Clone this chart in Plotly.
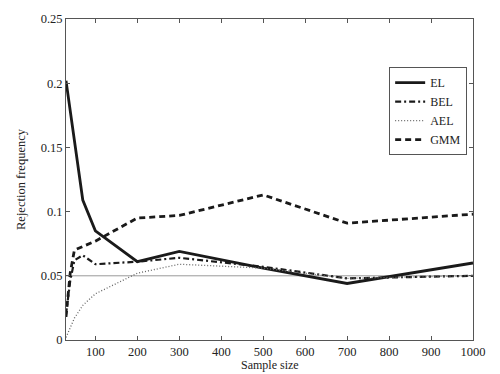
import plotly.graph_objects as go

sample_size = [30, 40, 50, 70, 100, 200, 300, 500, 700, 1000]
el = [0.202, 0.178, 0.155, 0.109, 0.085, 0.061, 0.069, 0.056, 0.044, 0.060]
bel = [0.020, 0.046, 0.062, 0.066, 0.059, 0.061, 0.064, 0.057, 0.048, 0.050]
ael = [0.002, 0.010, 0.017, 0.027, 0.036, 0.052, 0.059, 0.056, 0.048, 0.050]
gmm = [0.018, 0.052, 0.070, 0.073, 0.077, 0.095, 0.097, 0.113, 0.091, 0.098]
x_ticks = [100, 200, 300, 400, 500, 600, 700, 800, 900, 1000]
y_ticks = [0, 0.05, 0.1, 0.15, 0.2, 0.25]
ref_level = 0.05

FONT = "Liberation Serif"

fig = go.Figure()
fig.add_trace(go.Scatter(x=sample_size, y=el, name="EL", mode="lines",
                         line=dict(color="#1a1a1a", width=2.8)))
fig.add_trace(go.Scatter(x=sample_size, y=bel, name="BEL", mode="lines",
                         line=dict(color="#1a1a1a", width=2.2, dash="6px,3px,2px,3px")))
fig.add_trace(go.Scatter(x=sample_size, y=ael, name="AEL", mode="lines",
                         line=dict(color="#666666", width=1.3, dash="1px,2px")))
fig.add_trace(go.Scatter(x=sample_size, y=gmm, name="GMM", mode="lines",
                         line=dict(color="#1a1a1a", width=2.8, dash="6px,4px")))

fig.add_shape(type="line", xref="x", yref="y", x0=sample_size[0], x1=sample_size[-1],
              y0=ref_level, y1=ref_level, line=dict(color="#999999", width=1), layer="below")

axis_common = dict(showgrid=False, zeroline=False, showline=True, linecolor="#555555",
                   linewidth=1, mirror="ticks", ticks="inside", ticklen=4, automargin=False,
                   tickcolor="#555555", tickfont=dict(family=FONT, size=12.5, color="#222222"))

# page body has an 8px default margin, so the figure is sized/placed to compensate
fig.update_layout(
    width=492, height=366,
    margin=dict(l=58, r=27, t=11, b=34),
    paper_bgcolor="white", plot_bgcolor="white",
    font=dict(family=FONT, size=12.5, color="#222222"),
    xaxis=dict(range=[sample_size[0], sample_size[-1]], tickvals=x_ticks, **axis_common),
    yaxis=dict(range=[y_ticks[0], y_ticks[-1]], tickvals=y_ticks,
               title=dict(text="Rejection frequency", standoff=12, font=dict(family=FONT, size=12.5)),
               **axis_common),
    legend=dict(x=0.794, y=0.85, xanchor="left", yanchor="top",
                bgcolor="white", bordercolor="#555555", borderwidth=1,
                font=dict(family=FONT, size=12, color="#222222"),
                itemwidth=30, tracegroupgap=0),
    showlegend=True,
    annotations=[dict(text="Sample size", xref="paper", yref="paper", x=0.5, y=-0.078,
                      xanchor="center", yanchor="middle", showarrow=False,
                      font=dict(family=FONT, size=12, color="#222222"))],
)

fig.write_html("out.html")
